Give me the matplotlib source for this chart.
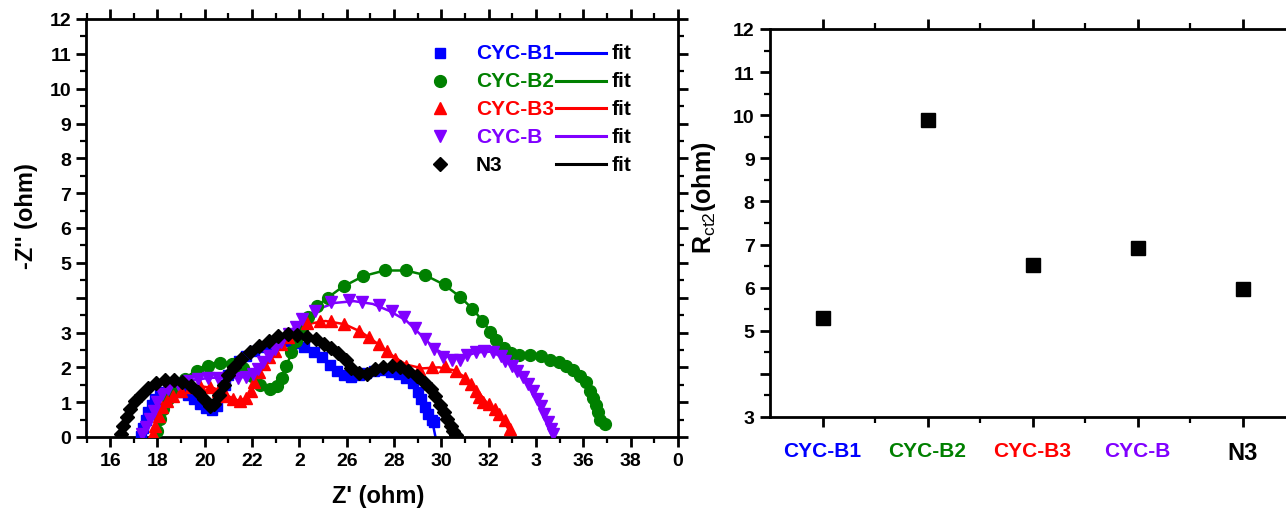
import matplotlib
matplotlib.use("Agg")
import matplotlib.pyplot as plt
from matplotlib.ticker import MultipleLocator

plt.rcParams['font.family'] = ['Liberation Sans', 'DejaVu Sans']
plt.rcParams['mathtext.fontset'] = 'custom'
plt.rcParams['mathtext.rm'] = 'Liberation Sans'
plt.rcParams['mathtext.bf'] = 'Liberation Sans:bold'

# ---------------- Nyquist data (Z', -Z'') ----------------
b1_x = [17.3, 17.4, 17.5, 17.6, 17.75, 17.9, 18.1, 18.3, 18.55, 18.8, 19.05, 19.3, 19.55, 19.8,
        20.05, 20.3, 20.5, 20.7, 20.85, 21.0, 21.2, 21.45, 21.75, 22.1, 22.45, 22.8, 23.15, 23.5,
        23.85, 24.2, 24.6, 24.95, 25.3, 25.6, 25.9, 26.2, 26.5, 26.8, 27.15, 27.5, 27.85, 28.2,
        28.5, 28.8, 29.0, 29.15, 29.3, 29.45, 29.6, 29.7]
b1_y = [0.03, 0.25, 0.5, 0.72, 0.92, 1.08, 1.2, 1.3, 1.35, 1.35, 1.3, 1.2, 1.08, 0.95,
        0.82, 0.78, 0.9, 1.2, 1.5, 1.78, 2.0, 2.18, 2.33, 2.47, 2.58, 2.66, 2.72, 2.75,
        2.7, 2.58, 2.45, 2.3, 2.08, 1.9, 1.78, 1.72, 1.78, 1.85, 1.9, 1.92, 1.88, 1.8,
        1.68, 1.55, 1.3, 1.1, 0.85, 0.65, 0.5, 0.43]
b1_fit_x = [17.2, 17.4, 17.7, 18.1, 18.6, 19.1, 19.6, 20.0, 20.3, 20.6, 21.0, 21.5, 22.2, 23.0,
            23.7, 24.4, 25.0, 25.6, 26.2, 26.8, 27.5, 28.2, 28.8, 29.3, 29.6, 29.75]
b1_fit_y = [0.0, 0.5, 0.95, 1.22, 1.33, 1.28, 1.1, 0.9, 0.85, 1.15, 1.75, 2.2, 2.5, 2.68,
            2.72, 2.55, 2.25, 1.92, 1.8, 1.88, 1.95, 1.85, 1.55, 1.05, 0.5, 0.0]

b2_x = [18.0, 18.1, 18.25, 18.45, 18.75, 19.15, 19.65, 20.15, 20.65, 21.15, 21.6, 22.0, 22.35,
        22.75, 23.05, 23.25, 23.45, 23.65, 23.85, 24.1, 24.35, 24.75, 25.2, 25.9, 26.7, 27.6,
        28.5, 29.3, 30.15, 30.8, 31.3, 31.7, 32.05, 32.3, 32.65, 32.95, 33.3, 33.75, 34.2,
        34.6, 34.95, 35.25, 35.55, 35.85, 36.1, 36.3, 36.42, 36.55, 36.62, 36.7, 36.9]
b2_y = [0.17, 0.52, 0.8, 1.09, 1.38, 1.66, 1.9, 2.04, 2.12, 2.1, 1.97, 1.75, 1.5,
        1.38, 1.45, 1.7, 2.05, 2.44, 2.75, 3.1, 3.45, 3.76, 3.98, 4.33, 4.63, 4.8,
        4.8, 4.65, 4.39, 4.03, 3.68, 3.32, 3.02, 2.78, 2.55, 2.4, 2.34, 2.34, 2.33,
        2.22, 2.14, 2.05, 1.93, 1.75, 1.57, 1.33, 1.13, 0.93, 0.72, 0.5, 0.37]
b2_fit_x = [17.95, 18.1, 18.4, 18.8, 19.4, 20.0, 20.6, 21.2, 21.7, 22.2, 22.6, 23.0, 23.4, 23.8,
            24.3, 25.0, 25.8, 26.7, 27.6, 28.5, 29.3, 30.1, 30.8, 31.4, 31.9, 32.4, 32.9, 33.5,
            34.2, 34.8, 35.4, 35.9, 36.3, 36.55, 36.7]
b2_fit_y = [0.0, 0.5, 1.05, 1.45, 1.8, 2.05, 2.16, 2.12, 1.95, 1.65, 1.45, 1.48, 1.95, 2.65,
            3.35, 3.9, 4.3, 4.62, 4.78, 4.78, 4.65, 4.38, 4.02, 3.62, 3.18, 2.7, 2.42, 2.33,
            2.32, 2.2, 2.0, 1.72, 1.3, 0.9, 0.45]

b3_x = [17.8, 17.9, 18.05, 18.2, 18.4, 18.65, 19.0, 19.4, 19.8, 20.2, 20.55, 20.9, 21.2, 21.5,
        21.75, 21.95, 22.1, 22.3, 22.5, 22.7, 22.95, 23.2, 23.5, 23.8, 24.3, 24.85, 25.35, 25.9,
        26.5, 26.95, 27.35, 27.7, 28.05, 28.5, 29.05, 29.6, 30.15, 30.6, 31.0, 31.25, 31.45,
        31.6, 31.75, 32.0, 32.25, 32.45, 32.7, 32.9]
b3_y = [0.09, 0.32, 0.6, 0.86, 1.03, 1.18, 1.32, 1.43, 1.46, 1.44, 1.33, 1.18, 1.09, 1.03,
        1.12, 1.32, 1.58, 1.87, 2.1, 2.3, 2.47, 2.67, 2.87, 3.05, 3.28, 3.33, 3.33, 3.24,
        3.05, 2.87, 2.67, 2.47, 2.25, 2.05, 1.96, 2.0, 2.05, 1.9, 1.7, 1.52, 1.32,
        1.15, 1.0, 0.95, 0.8, 0.66, 0.5, 0.23]
b3_fit_x = [17.75, 17.9, 18.2, 18.6, 19.2, 19.8, 20.4, 20.9, 21.4, 21.75, 22.0, 22.4, 23.0, 23.7,
            24.4, 25.1, 25.9, 26.6, 27.3, 27.9, 28.5, 29.2, 29.9, 30.5, 31.0, 31.5, 31.9, 32.3,
            32.7, 32.85]
b3_fit_y = [0.0, 0.35, 0.85, 1.18, 1.38, 1.46, 1.4, 1.2, 1.05, 1.1, 1.4, 2.0, 2.52, 2.98,
            3.25, 3.33, 3.24, 3.02, 2.68, 2.35, 2.08, 1.97, 2.0, 1.92, 1.72, 1.35, 1.0, 0.7,
            0.38, 0.2]

b_x = [17.35, 17.5, 17.7, 17.85, 18.0, 18.2, 18.45, 18.85, 19.3, 19.7, 20.15, 20.55, 21.0, 21.4,
       21.75, 22.05, 22.25, 22.45, 22.7, 22.95, 23.2, 23.55, 23.85, 24.1, 24.65, 25.35, 26.1,
       26.65, 27.35, 27.9, 28.4, 28.9, 29.3, 29.7, 30.05, 30.45, 30.8, 31.1, 31.45, 31.8, 32.2,
       32.5, 32.7, 33.0, 33.2, 33.45, 33.65, 33.87, 34.05, 34.2, 34.35, 34.5, 34.65, 34.7]
b_y = [0.09, 0.29, 0.52, 0.75, 1.0, 1.23, 1.38, 1.52, 1.61, 1.67, 1.7, 1.7, 1.68, 1.68,
       1.72, 1.81, 1.95, 2.15, 2.33, 2.53, 2.73, 2.96, 3.16, 3.38, 3.62, 3.87, 3.92,
       3.88, 3.8, 3.62, 3.45, 3.12, 2.82, 2.53, 2.3, 2.22, 2.2, 2.35, 2.44, 2.46, 2.44,
       2.33, 2.18, 2.04, 1.9, 1.72, 1.52, 1.32, 1.1, 0.89, 0.66, 0.43, 0.23, 0.09]
b_fit_x = [17.3, 17.5, 17.8, 18.2, 18.7, 19.4, 20.2, 21.0, 21.7, 22.2, 22.7, 23.3, 24.0, 24.7,
           25.5, 26.3, 27.1, 27.8, 28.5, 29.1, 29.7, 30.3, 30.9, 31.5, 32.1, 32.6, 33.1, 33.6,
           34.0, 34.35, 34.6, 34.7]
b_fit_y = [0.0, 0.35, 0.8, 1.2, 1.45, 1.62, 1.7, 1.7, 1.72, 1.92, 2.35, 2.8, 3.3, 3.65,
           3.85, 3.9, 3.82, 3.62, 3.35, 2.95, 2.55, 2.3, 2.3, 2.43, 2.45, 2.28, 1.98, 1.55,
           1.15, 0.65, 0.25, 0.05]

n3_x = [16.45, 16.55, 16.7, 16.85, 17.05, 17.3, 17.6, 17.95, 18.3, 18.7, 19.05, 19.4, 19.7, 19.95,
        20.2, 20.4, 20.6, 20.8, 21.0, 21.25, 21.55, 21.9, 22.3, 22.7, 23.1, 23.5, 23.9, 24.3,
        24.7, 25.05, 25.35, 25.65, 25.95, 26.2, 26.5, 26.85, 27.2, 27.55, 27.9, 28.25, 28.6,
        28.95, 29.3, 29.55, 29.75, 29.95, 30.1, 30.25, 30.4, 30.5, 30.6]
n3_y = [0.1, 0.32, 0.57, 0.8, 1.03, 1.22, 1.42, 1.56, 1.64, 1.64, 1.58, 1.47, 1.3, 1.1,
        0.9, 0.95, 1.2, 1.5, 1.78, 2.02, 2.25, 2.45, 2.62, 2.77, 2.9, 2.97, 2.93, 2.86,
        2.8, 2.68, 2.55, 2.4, 2.2, 1.98, 1.84, 1.82, 1.95, 2.02, 2.04, 2.0, 1.9,
        1.75, 1.55, 1.38, 1.18, 0.92, 0.72, 0.52, 0.32, 0.18, 0.05]
n3_fit_x = [16.4, 16.6, 16.9, 17.4, 18.0, 18.6, 19.2, 19.7, 20.1, 20.35, 20.6, 21.0, 21.6, 22.3,
            23.0, 23.7, 24.4, 25.0, 25.6, 26.1, 26.6, 27.2, 27.9, 28.6, 29.2, 29.7, 30.1, 30.4,
            30.6]
n3_fit_y = [0.0, 0.5, 0.95, 1.35, 1.6, 1.68, 1.58, 1.32, 1.05, 0.95, 1.2, 1.78, 2.3, 2.65,
            2.88, 2.96, 2.88, 2.7, 2.4, 2.05, 1.88, 1.95, 2.03, 1.92, 1.62, 1.2, 0.7, 0.3,
            0.0]

# ---------------- Rct2 values ----------------
samples = ['CYC-B1', 'CYC-B2', 'CYC-B3', 'CYC-B', 'N3']
rct2 = [5.3, 9.9, 6.53, 6.92, 5.97]

colors = ['#0000FF', '#008000', '#FF0000', '#8000FF', '#000000']
markers = ['s', 'o', '^', 'v', 'D']
msizes = [7, 8.5, 9, 9, 7]

x_ticks = [16, 18, 20, 22, 24, 26, 28, 30, 32, 34, 36, 38, 40]
x_ticklabels = ['16', '18', '20', '22', '2', '26', '28', '30', '32', '3', '36', '38', '0']
y_ticks = list(range(0, 13))
y_ticklabels = ['0', '1', '2', '3', '', '5', '6', '7', '8', '9', '10', '11', '12']
r_ticks = list(range(3, 13))
r_ticklabels = ['3', '', '5', '6', '7', '8', '9', '10', '11', '12']

series = [(b1_x, b1_y, b1_fit_x, b1_fit_y),
          (b2_x, b2_y, b2_fit_x, b2_fit_y),
          (b3_x, b3_y, b3_fit_x, b3_fit_y),
          (b_x, b_y, b_fit_x, b_fit_y),
          (n3_x, n3_y, n3_fit_x, n3_fit_y)]

fig = plt.figure(figsize=(12.86, 5.10), dpi=100)
W, H = 1286.0, 510.0

def axes_rect(left, top, right, bottom):
    return [left / W, 1 - bottom / H, (right - left) / W, (bottom - top) / H]

ax1 = fig.add_axes(axes_rect(86.5, 20, 678, 438))
ax2 = fig.add_axes(axes_rect(770, 30, 1300, 418))

def style_axis(ax):
    for s in ax.spines.values():
        s.set_linewidth(2.0)
    ax.tick_params(which='major', direction='out', length=7, width=2.0,
                   labelsize=14, pad=4)
    ax.tick_params(which='minor', direction='out', length=4, width=1.6)
    for lab in ax.get_xticklabels() + ax.get_yticklabels():
        lab.set_fontweight('bold')

# ---------------- left panel: Nyquist plot ----------------
for (dx, dy, fx, fy), c, m, ms in zip(series, colors, markers, msizes):
    ax1.plot(fx, fy, '-', color=c, lw=1.8, zorder=2)
    ax1.plot(dx, dy, linestyle='none', marker=m, color=c, ms=ms, mec=c, zorder=3)

ax1.set_xlim(15, 40)
ax1.set_ylim(0, 12)
ax1.set_xticks(x_ticks)
ax1.set_xticklabels(x_ticklabels)
ax1.set_yticks(y_ticks)
ax1.set_yticklabels(y_ticklabels)
ax1.xaxis.set_minor_locator(MultipleLocator(1))
ax1.yaxis.set_minor_locator(MultipleLocator(0.5))
style_axis(ax1)
ax1.tick_params(which='both', top=True, right=True)

fig.text(26 / W, 1 - 216 / H, "-Z'' (ohm)", rotation=90, ha='center', va='center',
         fontsize=17, fontweight='bold')
fig.text(378 / W, 1 - 497 / H, "Z' (ohm)", ha='center', va='center',
         fontsize=17, fontweight='bold')

# legend drawn row by row: marker, sample name, fit line, "fit"
row_y = [0.919, 0.852, 0.787, 0.720, 0.653]
for name, c, m, ms, yy in zip(samples, colors, markers, msizes, row_y):
    ax1.plot([0.598], [yy], transform=ax1.transAxes, marker=m, color=c, ms=ms,
             linestyle='none', clip_on=False)
    ax1.text(0.658, yy, name, transform=ax1.transAxes, color=c, fontsize=15,
             fontweight='bold', ha='left', va='center')
    ax1.plot([0.794, 0.878], [yy, yy], transform=ax1.transAxes, color=c, lw=2.2)
    ax1.text(0.888, yy, 'fit', transform=ax1.transAxes, color='black', fontsize=15,
             fontweight='bold', ha='left', va='center')

# ---------------- right panel: Rct2 ----------------
pos = list(range(1, len(samples) + 1))
ax2.plot(pos, rct2, linestyle='none', marker='s', color='black', ms=10)
ax2.set_xlim(0.5, 0.5 + (1300 - 770) / 105.0)
ax2.set_ylim(3, 12)
ax2.set_xticks(pos)
ax2.set_xticklabels(samples)
ax2.set_xticks([p + 0.5 for p in pos], minor=True)
ax2.set_yticks(r_ticks)
ax2.set_yticklabels(r_ticklabels)
ax2.yaxis.set_minor_locator(MultipleLocator(0.5))
ax2.spines['right'].set_visible(False)
style_axis(ax2)
ax2.tick_params(which='both', top=True, right=False)
ax2.tick_params(axis='x', which='major', pad=10)
for lab, c in zip(ax2.get_xticklabels(), colors):
    lab.set_color(c)
    lab.set_fontsize(15)
ax2.get_xticklabels()[-1].set_fontsize(17)

fig.text(704 / W, 1 - 198 / H, r"$\mathbf{R}_{\mathrm{ct2}}$" + "(ohm)", rotation=90,
         ha='center', va='center', fontsize=18, fontweight='bold')

fig.savefig('out.png', dpi=100)
